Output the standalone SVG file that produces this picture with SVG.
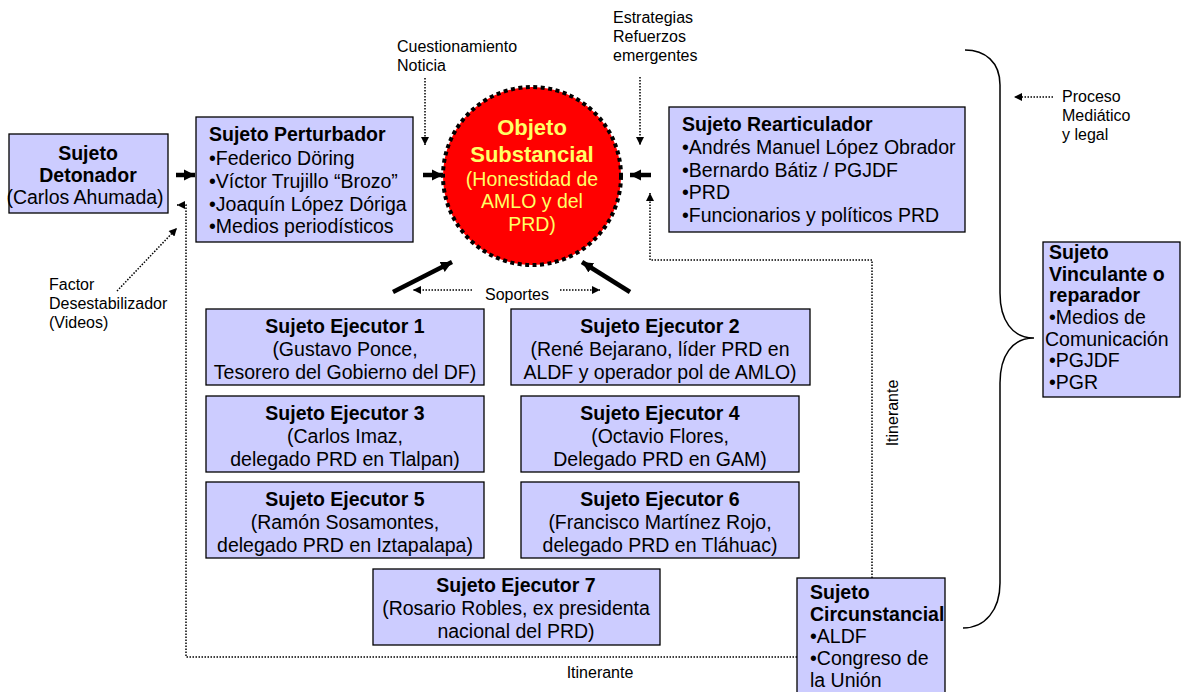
<svg xmlns="http://www.w3.org/2000/svg" width="1182" height="692" viewBox="0 0 1182 692">
<defs>
<style>
text{font-family:"Liberation Sans",Arial,sans-serif;fill:#000}
.box{fill:#CCCCFF;stroke:#000;stroke-width:1.3}
.t{font-size:19.5px}
.b{font-weight:bold}
.c{text-anchor:middle}
.lbl{font-size:16px}
.y{fill:#FFFF66}
.thick{stroke:#000;stroke-width:4.5;fill:none}
.dot{stroke:#000;stroke-width:1.5;stroke-dasharray:1.5 1.5;fill:none}
</style>
<marker id="hb" viewBox="0 0 10 10" refX="10" refY="5" markerWidth="11" markerHeight="14" markerUnits="userSpaceOnUse" orient="auto"><path d="M0,0 L10,5 L0,10 Z" fill="#000"/></marker>
<marker id="hs" viewBox="0 0 10 10" refX="10" refY="5" markerWidth="9" markerHeight="8" markerUnits="userSpaceOnUse" orient="auto"><path d="M0,0 L10,5 L0,10 Z" fill="#000"/></marker>
</defs>
<rect width="1182" height="692" fill="#fff"/>

<g id="connectors">
<line class="thick" x1="176" y1="175" x2="195" y2="175" marker-end="url(#hb)"/>
<line class="thick" x1="423" y1="175" x2="443" y2="175" marker-end="url(#hb)"/>
<line class="thick" x1="651" y1="175" x2="630" y2="175" marker-end="url(#hb)"/>
<line class="thick" x1="393" y1="292" x2="452" y2="262" marker-end="url(#hb)"/>
<line class="thick" x1="630" y1="292" x2="582" y2="262" marker-end="url(#hb)"/>
<line class="dot" x1="425" y1="78" x2="425" y2="145" marker-end="url(#hs)"/>
<line class="dot" x1="640" y1="77" x2="640" y2="145" marker-end="url(#hs)"/>
<polyline class="dot" points="872,578 872,260 650,260 650,193" marker-end="url(#hs)"/>
<polyline class="dot" points="797,657 186,657 186,205 177,205" marker-end="url(#hs)"/>
<line class="dot" x1="117" y1="291" x2="177" y2="228" marker-end="url(#hs)"/>
<line class="dot" x1="472" y1="290" x2="413" y2="290" marker-end="url(#hs)"/>
<line class="dot" x1="560" y1="290" x2="600" y2="290" marker-end="url(#hs)"/>
<line class="dot" x1="1053" y1="97" x2="1014" y2="97" marker-end="url(#hs)"/>
<path d="M965,50 C985,50 1000,62 1000,85 L1000,293 C1000,320 1012,338 1034,338 C1012,338 1000,356 1000,383 L1000,583 C1000,610 985,628 963,628" fill="none" stroke="#000" stroke-width="1.5"/>
<text class="lbl c" x="517" y="300">Soportes</text>
<text class="lbl c" x="600" y="678">Itinerante</text>
<text class="lbl c" transform="translate(898,413) rotate(-90)">Itinerante</text>
<text class="lbl"><tspan x="397" y="52">Cuestionamiento</tspan><tspan x="397" y="71">Noticia</tspan></text>
<text class="lbl"><tspan x="613" y="23">Estrategias</tspan><tspan x="613" y="42">Refuerzos</tspan><tspan x="613" y="61">emergentes</tspan></text>
<text class="lbl"><tspan x="1062" y="102">Proceso</tspan><tspan x="1062" y="121">Mediático</tspan><tspan x="1062" y="140">y legal</tspan></text>
<text class="lbl"><tspan x="49" y="290">Factor</tspan><tspan x="49" y="309">Desestabilizador</tspan><tspan x="49" y="328">(Videos)</tspan></text>
</g>

<g id="detonador">
<rect class="box" x="9" y="134" width="159" height="79"/>
<text class="t b c" x="88" y="160">Sujeto</text>
<text class="t b c" x="88" y="182">Detonador</text>
<text class="t c" x="85" y="204">(Carlos Ahumada)</text>
</g>

<g id="perturbador">
<rect class="box" x="196" y="117" width="217" height="125"/>
<text class="t b" x="209" y="141">Sujeto Perturbador</text>
<text class="t" x="209" y="165">•Federico Döring</text>
<text class="t" x="209" y="188">•Víctor Trujillo “Brozo”</text>
<text class="t" x="209" y="211">•Joaquín López Dóriga</text>
<text class="t" x="209" y="233">•Medios periodísticos</text>
</g>

<g id="objeto">
<circle cx="532" cy="176" r="89" fill="#FF0000" stroke="#000" stroke-width="4" stroke-dasharray="4 3.5"/>
<text class="b c y" style="font-size:22px" x="532" y="135">Objeto</text>
<text class="b c y" style="font-size:22px" x="532" y="162">Substancial</text>
<text class="t c y" x="532" y="186">(Honestidad de</text>
<text class="t c y" x="532" y="208">AMLO y del</text>
<text class="t c y" x="532" y="231">PRD)</text>
</g>

<g id="rearticulador">
<rect class="box" x="669" y="107" width="296" height="125"/>
<text class="t b" x="682" y="131">Sujeto Rearticulador</text>
<text class="t" x="682" y="154">•Andrés Manuel López Obrador</text>
<text class="t" x="682" y="177">•Bernardo Bátiz / PGJDF</text>
<text class="t" x="682" y="199">•PRD</text>
<text class="t" x="682" y="222">•Funcionarios y políticos PRD</text>
</g>

<g id="vinculante">
<rect class="box" x="1043" y="242" width="137" height="155"/>
<text class="t b" x="1049" y="259">Sujeto</text>
<text class="t b" x="1049" y="281">Vinculante o</text>
<text class="t b" x="1049" y="302">reparador</text>
<text class="t" x="1049" y="324">•Medios de</text>
<text class="t" x="1045" y="346">Comunicación</text>
<text class="t" x="1049" y="367">•PGJDF</text>
<text class="t" x="1049" y="389">•PGR</text>
</g>

<g id="ejecutor1">
<rect class="box" x="206" y="309" width="278" height="76"/>
<text class="t b c" x="345" y="333">Sujeto Ejecutor 1</text>
<text class="t c" x="345" y="356">(Gustavo Ponce,</text>
<text class="t c" x="345" y="379">Tesorero del Gobierno del DF)</text>
</g>

<g id="ejecutor2">
<rect class="box" x="511" y="309" width="299" height="76"/>
<text class="t b c" x="660" y="333">Sujeto Ejecutor 2</text>
<text class="t c" x="660" y="356">(René Bejarano, líder PRD en</text>
<text class="t c" x="660" y="379">ALDF y operador pol de AMLO)</text>
</g>

<g id="ejecutor3">
<rect class="box" x="206" y="396" width="278" height="76"/>
<text class="t b c" x="345" y="420">Sujeto Ejecutor 3</text>
<text class="t c" x="345" y="443">(Carlos Imaz,</text>
<text class="t c" x="345" y="466">delegado PRD en Tlalpan)</text>
</g>

<g id="ejecutor4">
<rect class="box" x="521" y="396" width="278" height="76"/>
<text class="t b c" x="660" y="420">Sujeto Ejecutor 4</text>
<text class="t c" x="660" y="443">(Octavio Flores,</text>
<text class="t c" x="660" y="466">Delegado PRD en GAM)</text>
</g>

<g id="ejecutor5">
<rect class="box" x="206" y="482" width="278" height="76"/>
<text class="t b c" x="345" y="506">Sujeto Ejecutor 5</text>
<text class="t c" x="345" y="529">(Ramón Sosamontes,</text>
<text class="t c" x="345" y="552">delegado PRD en Iztapalapa)</text>
</g>

<g id="ejecutor6">
<rect class="box" x="521" y="482" width="278" height="76"/>
<text class="t b c" x="660" y="506">Sujeto Ejecutor 6</text>
<text class="t c" x="660" y="529">(Francisco Martínez Rojo,</text>
<text class="t c" x="660" y="552">delegado PRD en Tláhuac)</text>
</g>

<g id="ejecutor7">
<rect class="box" x="373" y="569" width="287" height="76"/>
<text class="t b c" x="516" y="592">Sujeto Ejecutor 7</text>
<text class="t c" x="516" y="615">(Rosario Robles, ex presidenta</text>
<text class="t c" x="516" y="638">nacional del PRD)</text>
</g>

<g id="circunstancial">
<rect class="box" x="797" y="578" width="148" height="120"/>
<text class="t b" x="810" y="599">Sujeto</text>
<text class="t b" x="810" y="621">Circunstancial</text>
<text class="t" x="810" y="643">•ALDF</text>
<text class="t" x="810" y="665">•Congreso de</text>
<text class="t" x="810" y="687">la Unión</text>
</g>
</svg>
